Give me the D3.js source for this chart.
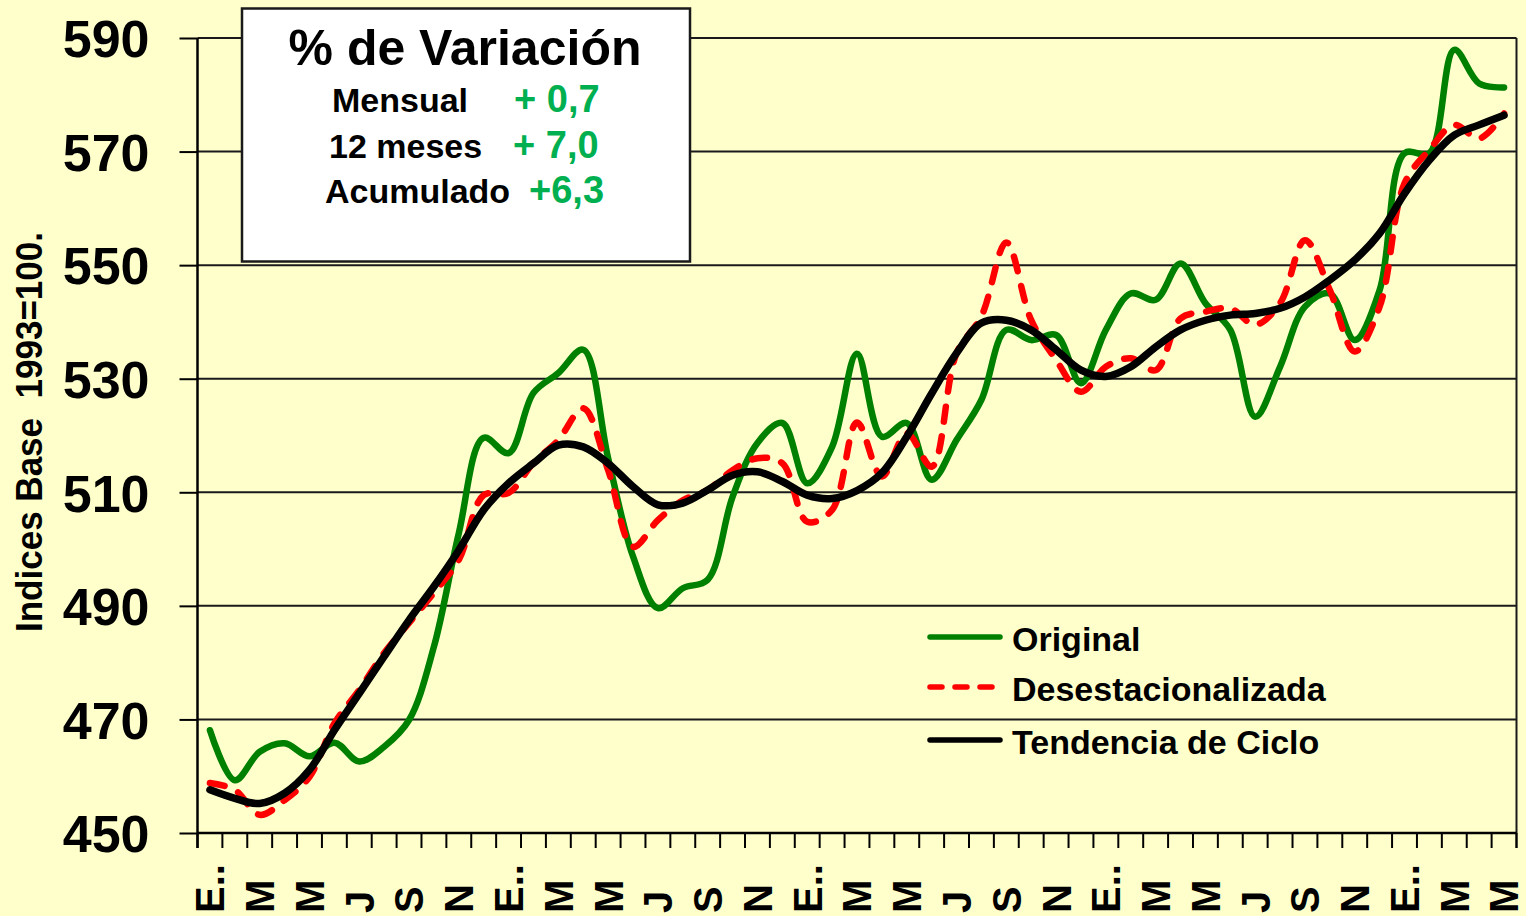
<!DOCTYPE html>
<html><head><meta charset="utf-8">
<script src="https://cdn.jsdelivr.net/npm/d3@7"></script>
<style>
html,body{margin:0;padding:0;background:#FFFFCC;}
svg{display:block;}
text{font-family:"Liberation Sans",Arial,Helvetica,sans-serif;font-weight:bold;}
</style></head><body>
<svg id="chart" width="1526" height="916"></svg>
<script>
const categories = ["E..","F","M","A","M","J","J","A","S","O","N","D",
  "E..","F","M","A","M","J","J","A","S","O","N","D",
  "E..","F","M","A","M","J","J","A","S","O","N","D",
  "E..","F","M","A","M","J","J","A","S","O","N","D",
  "E..","F","M","A","M"];
const original = [468.1,459.3,464.3,465.8,463.5,465.9,462.6,465.2,469.9,482.8,502.8,519.6,
  516.9,527.5,531.0,535.1,516.0,498.7,489.6,493.1,494.6,509.2,518.7,522.2,
  511.6,518.0,534.4,519.8,522.2,512.2,519.2,526.3,538.6,536.8,537.7,529.2,
  538.6,545.0,543.9,550.3,543.3,538.6,523.3,532.1,542.7,545.0,536.8,545.6,
  569.7,569.7,587.9,582.0,581.3];
const desestacionalizada = [458.8,457.6,453.2,455.8,459.9,469.3,475.2,481.7,487.0,492.3,498.1,509.5,
  509.9,515.2,519.2,524.8,513.9,500.4,505.1,508.6,510.4,513.9,516.0,515.1,
  504.8,506.9,522.3,512.8,520.4,514.5,534.5,541.0,554.0,540.3,533.3,527.7,
  532.1,533.6,531.5,540.6,541.8,542.4,539.5,543.3,554.4,545.6,534.8,542.7,
  564.4,570.3,574.7,572.3,576.7];
const tendencia = [457.6,456.1,455.2,457.0,461.1,468.1,474.6,481.1,487.5,493.4,499.8,506.9,
  511.6,515.1,518.3,518.0,515.1,511.0,507.8,508.1,510.4,513.0,513.6,511.9,
  509.5,508.9,510.3,513.4,519.8,527.4,534.5,539.8,540.3,538.6,535.1,531.5,
  530.4,532.1,535.6,538.6,540.3,541.2,541.5,542.4,544.4,547.4,550.9,555.6,
  562.6,568.5,572.9,574.7,576.4];
const yTicks = [450,470,490,510,530,550,570,590];
const labelIdx = [0,2,4,6,8,10,12,14,16,18,20,22,24,26,28,30,32,34,36,38,40,42,44,46,48,50,52];
const seriesNames = ["Original","Desestacionalizada","Tendencia de Ciclo"];
const boxTitle = "% de Variación";
const boxRows = ["Mensual","12 meses","Acumulado"];
const boxValues = ["+ 0,7","+ 7,0","+6,3"];
const yTitle = "Indices Base  1993=100.";

const svg = d3.select("#chart");
svg.append("rect").attr("width",1526).attr("height",916).attr("fill","#FFFFCC");

const L = 197.5, R = 1516.5, T = 38, B = 833;
const x = d3.scaleBand().domain(d3.range(categories.length)).range([L, R]);
const bw = x.bandwidth();
const y = d3.scaleLinear().domain([450,590]).range([B, T]);
const px = i => x(i) + bw/2;

// gridlines
svg.append("g").selectAll("line").data(yTicks).join("line")
  .attr("x1",L).attr("x2",R).attr("y1",d=>y(d)).attr("y2",d=>y(d))
  .attr("stroke","#1a1a1a").attr("stroke-width",2);
// right border
svg.append("line").attr("x1",R).attr("x2",R).attr("y1",T).attr("y2",B+15)
  .attr("stroke","#1a1a1a").attr("stroke-width",2);

// y axis
const yAxis = svg.append("g").attr("transform",`translate(${L},0)`)
  .call(d3.axisLeft(y).tickValues(yTicks).tickSize(18).tickPadding(30).tickFormat(d3.format("d")));
yAxis.select(".domain").remove();
yAxis.append("line").attr("x1",0).attr("x2",0).attr("y1",T).attr("y2",B+15)
  .attr("stroke","#000").attr("stroke-width",2.5);
yAxis.selectAll(".tick line").attr("stroke","#000").attr("stroke-width",2);
yAxis.selectAll(".tick text").attr("font-size",52).attr("fill","#000")
  .style("font-family",'"Liberation Sans",Arial,sans-serif').style("font-weight","bold").attr("dy","0.36em");

// x axis
svg.append("line").attr("x1",L).attr("x2",R).attr("y1",B).attr("y2",B)
  .attr("stroke","#000").attr("stroke-width",2.5);
const bounds = d3.range(categories.length+1).map(k => k < categories.length ? x(k) : R);
svg.append("g").selectAll("line").data(bounds).join("line")
  .attr("x1",d=>d).attr("x2",d=>d).attr("y1",B).attr("y2",B+15)
  .attr("stroke","#000").attr("stroke-width",2);
const xAxis = svg.append("g").attr("transform",`translate(0,${B})`)
  .call(d3.axisBottom(x).tickValues(labelIdx).tickFormat(i=>categories[i]).tickSize(0));
xAxis.select(".domain").remove();
xAxis.selectAll(".tick text")
  .attr("x",0).attr("y",0).attr("dy","0.36em")
  .attr("text-anchor","start")
  .attr("transform","translate(0,80) rotate(-90)")
  .attr("font-size",40).attr("fill","#000")
  .style("font-family",'"Liberation Sans",Arial,sans-serif').style("font-weight","bold");

// y title
svg.append("text").attr("transform","translate(42,432) rotate(-90)")
  .attr("text-anchor","middle").attr("font-size",36).attr("fill","#000")
  .attr("textLength",400).attr("lengthAdjust","spacingAndGlyphs")
  .style("white-space","pre").text(yTitle);

// series
const line = d3.line().x((d,i)=>px(i)).y(d=>y(d)).curve(d3.curveCatmullRom.alpha(0.5));
const styles = [
  {data: original, color:"#008000", width:6.5, dash:null},
  {data: desestacionalizada, color:"#FF0000", width:6.5, dash:"15,15"},
  {data: tendencia, color:"#000000", width:7.5, dash:null}
];
styles.forEach(s => {
  svg.append("path").datum(s.data).attr("d",line).attr("fill","none")
    .attr("stroke",s.color).attr("stroke-width",s.width)
    .attr("stroke-linecap","round").attr("stroke-linejoin","round")
    .attr("stroke-dasharray",s.dash);
});

// legend
const legY = [637,687,740];
styles.forEach((s,i) => {
  svg.append("line").attr("x1",930).attr("x2",1000).attr("y1",legY[i]).attr("y2",legY[i])
    .attr("stroke",s.color).attr("stroke-width",5.5).attr("stroke-linecap","round")
    .attr("stroke-dasharray", s.dash ? "12,13" : null);
  svg.append("text").attr("x",1012).attr("y",legY[i]).attr("dy","0.4em")
    .attr("font-size",34).attr("fill","#000").text(seriesNames[i]);
});

// variation box
svg.append("rect").attr("x",242).attr("y",8.5).attr("width",448).attr("height",253)
  .attr("fill","#FFFFFF").attr("stroke","#1a1a1a").attr("stroke-width",2.5);
svg.append("text").attr("x",465).attr("y",65).attr("text-anchor","middle")
  .attr("font-size",50).attr("fill","#000").text(boxTitle);
const rowY = [112,158,203];
const rowX = [332,329,325];
const valX = [514,513,529];
boxRows.forEach((r,i) => {
  svg.append("text").attr("x",rowX[i]).attr("y",rowY[i]).attr("font-size",34)
    .attr("fill","#000").text(r);
  svg.append("text").attr("x",valX[i]).attr("y",rowY[i]).attr("font-size",38)
    .attr("fill","#00B050").style("white-space","pre").text(boxValues[i]);
});
</script>
</body></html>
